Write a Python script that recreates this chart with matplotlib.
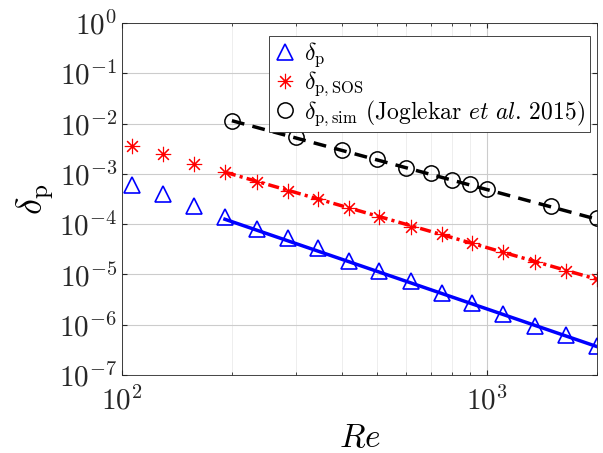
import numpy as np
import matplotlib
matplotlib.use('Agg')
from matplotlib import pyplot as plt

plt.rcParams['mathtext.fontset'] = 'cm'
plt.rcParams['font.family'] = 'serif'
plt.rcParams['font.serif'] = ['cmr10', 'DejaVu Serif']
plt.rcParams['axes.unicode_minus'] = False

# delta_p (triangles)
re_p = [106.7, 129.7, 157.7, 191.4, 233.8, 284.2, 343.4, 418.2, 506.3, 617.0,
        750.3, 912.0, 1106, 1351, 1642, 2000]
delta_p = [6.0e-4, 4.0e-4, 2.3e-4, 1.41e-4, 7.9e-5, 5.25e-5, 3.3e-5, 1.88e-5,
           1.19e-5, 7.4e-6, 4.35e-6, 2.68e-6, 1.64e-6, 9.5e-7, 6.2e-7, 3.7e-7]

# delta_p,SOS (asterisks)
delta_sos = [3.64e-3, 2.45e-3, 1.57e-3, 1.08e-3, 7.0e-4, 4.63e-4, 3.16e-4, 2.1e-4,
             1.37e-4, 8.9e-5, 6.4e-5, 4.17e-5, 2.83e-5, 1.79e-5, 1.19e-5, 8.0e-6]

# delta_p,sim (circles, Joglekar et al. 2015)
re_sim = [200, 300, 400, 500, 600, 700, 800, 900, 1000, 1500, 2000]
delta_sim = [1.14e-2, 5.35e-3, 2.99e-3, 1.95e-3, 1.29e-3, 1.03e-3, 7.6e-4,
             6.2e-4, 4.94e-4, 2.3e-4, 1.31e-4]

# power-law fits
fit_re_p = [191.4, 2000]
fit_p = [1.25e-4, 3.67e-7]
fit_re_sos = [191.4, 2000]
fit_sos = [1.08e-3, 8.0e-6]
fit_re_sim = [200, 2000]
fit_sim = [1.14e-2, 1.25e-4]

fig = plt.figure(figsize=(6.03, 4.53), dpi=100)
ax = fig.add_axes([122/603, 1-375/453, 475/603, 352/453])

ax.plot(re_p, delta_p, '^', color='b', mfc='none', ms=12, mew=1.2, label=r'$\delta_{\mathrm{p}}$')
ax.plot(re_p, delta_sos, marker=(8, 2, 0), ls='none', color='r', ms=11, mew=0.8,
        label=r'$\delta_{\mathrm{p,SOS}}$')
ax.plot(re_sim, delta_sim, 'o', color='k', mfc='none', ms=11, mew=1.1,
        label=r'$\delta_{\mathrm{p,sim}}$ (Joglekar $\mathit{et\ al}$. 2015)')

ax.plot(fit_re_p, fit_p, '-', color='b', lw=2.5)
ax.plot(fit_re_sos, fit_sos, '-.', color='r', lw=2.5, dashes=(3.2, 1.2, 0.9, 1.2))
ax.plot(fit_re_sim, fit_sim, '--', color='k', lw=2.5, dashes=(3.7, 2.4))

ax.set_xscale('log')
ax.set_yscale('log')
ax.set_xlim(100, 2000)
ax.set_ylim(1e-7, 1)

ax.set_xticks([1e2, 1e3])
ax.set_xticklabels([r'$10^{2}$', r'$10^{3}$'])
ax.set_yticks([10.0**e for e in range(-7, 1)])
ax.set_yticklabels([r'$10^{%d}$' % e for e in range(-7, 1)])

ax.grid(True, which='major', color='#cccccc', lw=0.8)
ax.grid(True, which='minor', color='#ebebeb', lw=0.6)
ax.set_axisbelow(True)
ax.tick_params(which='both', direction='in', colors='#262626', labelsize=21,
               top=True, right=True)
ax.tick_params(axis='x', pad=8)
for s in ax.spines.values():
    s.set_color('#262626')
    s.set_linewidth(0.6)

ax.set_xlabel(r'$Re$', fontsize=24, labelpad=6)
ax.set_ylabel(r'$\delta_{\mathrm{p}}$', fontsize=26, labelpad=2)

leg = ax.legend(loc='upper right', bbox_to_anchor=(590/603, 1-36/453),
                bbox_transform=fig.transFigure, fontsize=17, fancybox=False,
                framealpha=1, edgecolor='#262626', handletextpad=0.3,
                handlelength=1.0, borderpad=0.2, labelspacing=0.0, borderaxespad=0)
leg.get_frame().set_linewidth(0.6)

fig.savefig('out.png', dpi=100)
